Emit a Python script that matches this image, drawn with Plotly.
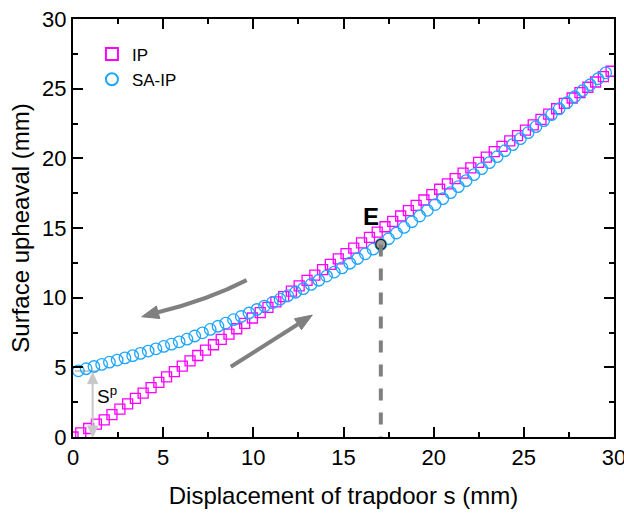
import plotly.graph_objects as go

# ---------------- data ----------------
ip_s = [0.00, 0.43, 0.87, 1.30, 1.73, 2.16, 2.60, 3.03, 3.46, 3.89, 4.33, 4.76, 5.19, 5.62,
        6.06, 6.49, 6.92, 7.35, 7.79, 8.22, 8.65, 9.08, 9.52, 9.95, 10.38, 10.81, 11.25, 11.68,
        12.11, 12.54, 12.98, 13.41, 13.84, 14.27, 14.71, 15.14, 15.57, 16.00, 16.44, 16.87,
        17.30, 17.73, 18.17, 18.60, 19.03, 19.46, 19.90, 20.33, 20.76, 21.19, 21.63, 22.06,
        22.49, 22.92, 23.36, 23.79, 24.22, 24.65, 25.09, 25.52, 25.95, 26.38, 26.82, 27.25,
        27.68, 28.11, 28.55, 28.98, 29.41, 29.84]
ip_y = [0.00, 0.30, 0.61, 0.92, 1.23, 1.61, 2.00, 2.38, 2.77, 3.15, 3.54, 3.92, 4.31, 4.69,
        5.08, 5.47, 5.85, 6.23, 6.62, 7.00, 7.39, 7.77, 8.16, 8.54, 8.93, 9.31, 9.70, 10.08,
        10.47, 10.85, 11.24, 11.62, 12.01, 12.39, 12.78, 13.16, 13.55, 13.93, 14.32, 14.70,
        15.09, 15.47, 15.86, 16.24, 16.63, 17.01, 17.40, 17.78, 18.17, 18.55, 18.94, 19.32,
        19.71, 20.09, 20.48, 20.86, 21.25, 21.63, 22.02, 22.40, 22.79, 23.17, 23.56, 23.94,
        24.33, 24.71, 25.10, 25.48, 25.87, 26.25]

saip_s = [0.30, 0.73, 1.16, 1.59, 2.02, 2.45, 2.88, 3.31, 3.74, 4.17, 4.60, 5.03, 5.46, 5.89,
          6.32, 6.75, 7.18, 7.61, 8.04, 8.47, 8.90, 9.33, 9.76, 10.19, 10.62, 11.05, 11.48,
          11.91, 12.34, 12.77, 13.20, 13.63, 14.06, 14.49, 14.92, 15.35, 15.78, 16.21, 16.64,
          17.07, 17.50, 17.93, 18.36, 18.79, 19.22, 19.65, 20.08, 20.51, 20.94, 21.37, 21.80,
          22.23, 22.66, 23.09, 23.52, 23.95, 24.38, 24.81, 25.24, 25.67, 26.10, 26.53, 26.96,
          27.39, 27.82, 28.25, 28.68, 29.11, 29.54]
saip_y = [4.75, 4.90, 5.06, 5.21, 5.37, 5.52, 5.68, 5.84, 6.00, 6.17, 6.33, 6.50, 6.66, 6.83,
          7.02, 7.25, 7.48, 7.72, 7.95, 8.18, 8.42, 8.65, 8.90, 9.15, 9.40, 9.64, 9.89,
          10.14, 10.39, 10.65, 10.95, 11.25, 11.55, 11.84, 12.14, 12.47, 12.81, 13.15, 13.48,
          13.82, 14.23, 14.64, 15.04, 15.45, 15.86, 16.27, 16.68, 17.11, 17.54, 17.97, 18.40,
          18.83, 19.26, 19.69, 20.12, 20.55, 20.98, 21.41, 21.84, 22.27, 22.70, 23.13, 23.56,
          23.99, 24.42, 24.85, 25.28, 25.71, 26.14]

point_E = (17.07, 13.82)
sp_x = 1.09
sp_top = 4.62
sp_bottom = 0.0

x_ticks = [0, 5, 10, 15, 20, 25, 30]
y_ticks = [0, 5, 10, 15, 20, 25, 30]

# ---------------- layout geometry ----------------
W, H = 624, 513
ML, MR, MT, MB = 73, 10, 19, 76
X_RANGE = [0, 30]
Y_RANGE = [0, 30]
px_per_x = (W - ML - MR) / (X_RANGE[1] - X_RANGE[0])
px_per_y = (H - MT - MB) / (Y_RANGE[1] - Y_RANGE[0])

FONT = "Arial, Liberation Sans, sans-serif"
GREY = "#808080"
LIGHT = "#c8c8c8"


def arrowhead(tip, frm, length_px, half_w_px):
    """Triangle path (data coords) for an arrowhead pointing from `frm` to `tip`."""
    dxp = (tip[0] - frm[0]) * px_per_x
    dyp = (tip[1] - frm[1]) * px_per_y
    n = (dxp ** 2 + dyp ** 2) ** 0.5
    ux, uy = dxp / n, dyp / n
    bx = tip[0] - ux * length_px / px_per_x
    by = tip[1] - uy * length_px / px_per_y
    px_, py_ = -uy, ux
    c1 = (bx + px_ * half_w_px / px_per_x, by + py_ * half_w_px / px_per_y)
    c2 = (bx - px_ * half_w_px / px_per_x, by - py_ * half_w_px / px_per_y)
    return (f"M {tip[0]},{tip[1]} L {c1[0]},{c1[1]} L {c2[0]},{c2[1]} Z",
            (bx, by))


fig = go.Figure()

fig.add_trace(go.Scatter(
    x=ip_s, y=ip_y, mode="markers", name="IP",
    marker=dict(symbol="square-open", size=10, color="#ff00ff", line=dict(width=1.3)),
))
fig.add_trace(go.Scatter(
    x=saip_s, y=saip_y, mode="markers", name="SA-IP",
    marker=dict(symbol="circle-open", size=11.5, color="#1ea6ff", line=dict(width=1.3)),
))

shapes = []

# dashed vertical line from E down to axis
shapes.append(dict(type="line", xref="x", yref="y", x0=point_E[0], x1=point_E[0],
                   y0=point_E[1], y1=0, line=dict(color=GREY, width=4, dash="dash"),
                   layer="above"))

# curved arrow (unloading, pointing left)
c_start = (9.63, 11.26)
c_ctrl = (7.51, 9.85)
c_tip = (3.81, 8.63)
head_path, head_base = arrowhead(c_tip, (4.80, 8.98), 17, 6.5)
shapes.append(dict(type="path", xref="x", yref="y",
                   path=f"M {c_start[0]},{c_start[1]} Q {c_ctrl[0]},{c_ctrl[1]} {head_base[0]},{head_base[1]}",
                   line=dict(color=GREY, width=4)))
shapes.append(dict(type="path", xref="x", yref="y", path=head_path,
                   fillcolor=GREY, line=dict(color=GREY, width=1)))

# straight arrow (loading, pointing up-right)
s_start = (8.75, 5.04)
s_tip = (13.27, 8.75)
head_path2, head_base2 = arrowhead(s_tip, s_start, 17, 6.5)
shapes.append(dict(type="line", xref="x", yref="y", x0=s_start[0], y0=s_start[1],
                   x1=head_base2[0], y1=head_base2[1], line=dict(color=GREY, width=4)))
shapes.append(dict(type="path", xref="x", yref="y", path=head_path2,
                   fillcolor=GREY, line=dict(color=GREY, width=1)))

# S^p double arrow
hp_top, hb_top = arrowhead((sp_x, sp_top), (sp_x, sp_bottom), 11, 5)
hp_bot, hb_bot = arrowhead((sp_x, sp_bottom), (sp_x, sp_top), 11, 5)
shapes.append(dict(type="line", xref="x", yref="y", x0=sp_x, x1=sp_x,
                   y0=hb_bot[1], y1=hb_top[1], line=dict(color=LIGHT, width=2)))
shapes.append(dict(type="path", xref="x", yref="y", path=hp_top,
                   fillcolor=LIGHT, line=dict(color=LIGHT, width=1)))
shapes.append(dict(type="path", xref="x", yref="y", path=hp_bot,
                   fillcolor=LIGHT, line=dict(color=LIGHT, width=1)))
shapes.append(dict(type="line", xref="x", yref="y", x0=0.1, x1=sp_x + 0.3,
                   y0=4.73, y1=4.73, line=dict(color=LIGHT, width=2), layer="below"))

# point E marker
fig.add_trace(go.Scatter(
    x=[point_E[0]], y=[point_E[1]], mode="markers", showlegend=False,
    marker=dict(symbol="circle", size=10, color="#a0a0a0",
                line=dict(color="#202020", width=1.2)),
))

annotations = [
    dict(x=16.55, y=15.8, xref="x", yref="y", text="<b>E</b>", showarrow=False,
         font=dict(family=FONT, size=24, color="black")),
    dict(x=1.9, y=3.05, xref="x", yref="y", text="S<sup>p</sup>", showarrow=False,
         font=dict(family=FONT, size=19, color="black")),
]

axis_common = dict(
    showline=True, linecolor="black", linewidth=2, mirror="ticks",
    ticks="inside", ticklen=10, tickwidth=2, tickcolor="black",
    showgrid=False, zeroline=False, automargin=False, ticklabeloverflow="allow",
    tickfont=dict(family=FONT, size=22, color="black"),
    minor=dict(ticks="inside", ticklen=5, tickwidth=2, tickcolor="black", dtick=2.5,
               showgrid=False),
)

fig.update_layout(
    width=W, height=H,
    margin=dict(l=ML, r=MR, t=MT, b=MB),
    paper_bgcolor="white", plot_bgcolor="white",
    font=dict(family=FONT, color="black"),
    xaxis=dict(range=X_RANGE, tickvals=x_ticks, ticktext=[str(v) for v in x_ticks],
               title=dict(text="Displacement of trapdoor s (mm)",
                          font=dict(family=FONT, size=24), standoff=18),
               **axis_common),
    yaxis=dict(range=Y_RANGE, tickvals=y_ticks, ticktext=[str(v) for v in y_ticks],
               title=dict(text="Surface upheaval (mm)",
                          font=dict(family=FONT, size=24), standoff=6),
               **axis_common),
    legend=dict(x=0.035, y=0.958, xanchor="left", yanchor="top",
                bgcolor="rgba(0,0,0,0)", borderwidth=0,
                font=dict(family=FONT, size=17, color="black"),
                itemsizing="constant", tracegroupgap=0),
    shapes=shapes,
    annotations=annotations,
    showlegend=True,
)

fig.write_html("out.html", config={"displayModeBar": False},
               post_script="document.body.style.margin='0px';")
